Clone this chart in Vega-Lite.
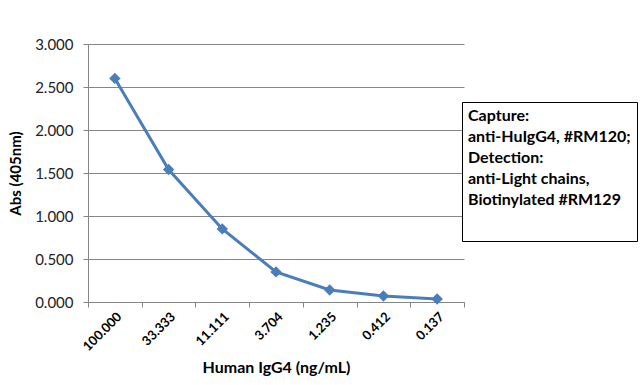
{
  "$schema": "https://vega.github.io/schema/vega-lite/v6.json",
  "width": 376,
  "height": 258,
  "autosize": {"type": "none"},
  "padding": {"left": 88, "top": 44, "right": 176, "bottom": 83},
  "background": "white",
  "config": {
    "font": "Lato",
    "view": {"stroke": null}
  },
  "data": {
    "values": [
      {"conc": "100.000", "abs": 2.60},
      {"conc": "33.333", "abs": 1.54},
      {"conc": "11.111", "abs": 0.85},
      {"conc": "3.704", "abs": 0.35},
      {"conc": "1.235", "abs": 0.14},
      {"conc": "0.412", "abs": 0.07},
      {"conc": "0.137", "abs": 0.035}
    ]
  },
  "encoding": {
    "x": {
      "field": "conc",
      "type": "ordinal",
      "sort": null,
      "scale": {"paddingInner": 0, "paddingOuter": 0},
      "axis": {
        "title": "Human IgG4 (ng/mL)",
        "titleFontSize": 16,
        "titleFontWeight": "bold",
        "titleColor": "#000000",
        "titlePadding": 6,
        "labelAngle": -45,
        "labelAlign": "right",
        "labelBaseline": "top",
        "labelFontWeight": "bold",
        "labelFontSize": 13,
        "labelColor": "#000000",
        "labelPadding": 3,
        "tickBand": "extent",
        "tickColor": "#868686",
        "tickSize": 5,
        "domainColor": "#868686",
        "grid": false
      }
    },
    "y": {
      "field": "abs",
      "type": "quantitative",
      "scale": {"domain": [0, 3], "nice": false},
      "axis": {
        "title": "Abs (405nm)",
        "titleFontSize": 15,
        "titleFontWeight": "bold",
        "titleColor": "#000000",
        "titlePadding": 11,
        "values": [0, 0.5, 1, 1.5, 2, 2.5, 3],
        "format": ".3f",
        "labelFontSize": 15,
        "labelColor": "#222222",
        "labelPadding": 10,
        "tickColor": "#868686",
        "tickSize": 5,
        "domainColor": "#868686",
        "gridColor": "#868686",
        "gridOpacity": 1
      }
    },
    "color": {
      "datum": "series",
      "scale": {"range": ["#4a7ebb"]},
      "legend": {
        "orient": "none",
        "legendX": 374,
        "legendY": 58,
        "title": ["Capture:", "anti-HuIgG4, #RM120;", "Detection:", "anti-Light chains,", "Biotinylated #RM129"],
        "titleFontSize": 16,
        "titleFontWeight": "bold",
        "titleColor": "#000000",
        "titleLineHeight": 21,
        "titleLimit": 300,
        "padding": 6,
        "strokeColor": "#000000",
        "fillColor": "white",
        "symbolOpacity": 0,
        "labelExpr": "''",
        "symbolSize": 0,
        "labelFontSize": 22
      }
    }
  },
  "layer": [
    {"mark": {"type": "line", "strokeWidth": 3}},
    {"mark": {"type": "point", "shape": "diamond", "filled": true, "opacity": 1, "size": 130}}
  ]
}
